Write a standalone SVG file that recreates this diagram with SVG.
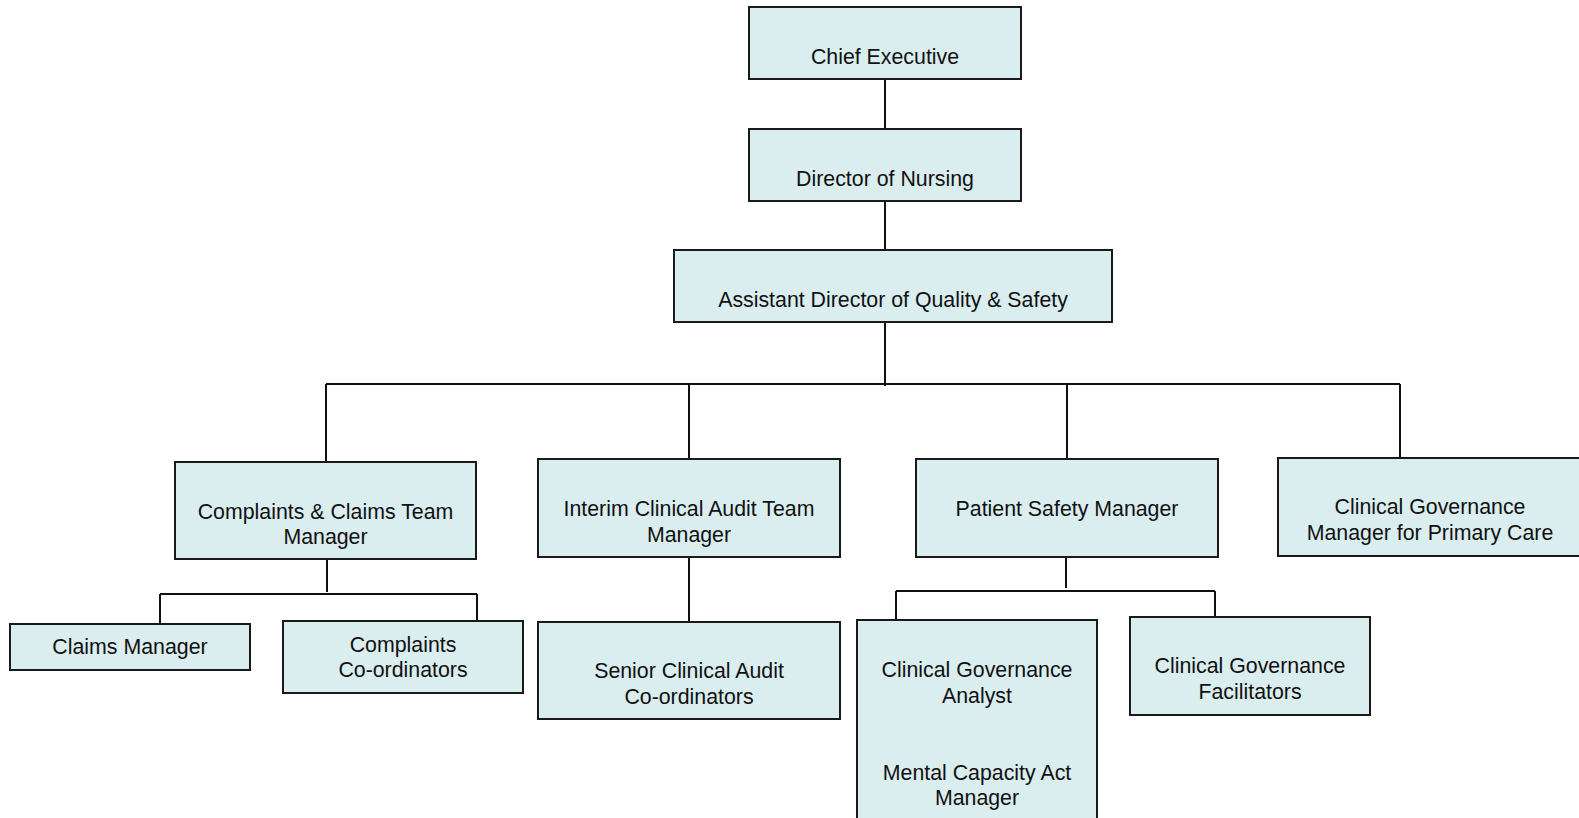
<svg xmlns="http://www.w3.org/2000/svg" width="1579" height="818" viewBox="0 0 1579 818">
<style>
.box{fill:#DAEDEF;stroke:#1a1a1a;stroke-width:2}
.t{font-family:"Liberation Sans",Arial,sans-serif;font-size:21.33px;fill:#111;text-anchor:middle}
.c{stroke:#111;stroke-width:2;fill:none}
</style>
<rect width="1579" height="818" fill="#fff"/>
<g id="connectors">
<path class="c" d="M885 79V128M885 201V250M885 322V386M326 384H1400M326 384V462M689 384V459M1067 384V459M1400 384V458"/>
<path class="c" d="M327 559V592M160 594H477M160 594V623M477 594V621"/>
<path class="c" d="M689 557V621"/>
<path class="c" d="M1066 557V588M896 591H1215M896 591V620M1215 591V617"/>
</g>
<g id="chief"><rect class="box" x="749" y="7" width="272" height="72"/><text class="t" x="885" y="64">Chief Executive</text></g>
<g id="director"><rect class="box" x="749" y="129" width="272" height="72"/><text class="t" x="885" y="186">Director of Nursing</text></g>
<g id="assistant"><rect class="box" x="674" y="250" width="438" height="72"/><text class="t" x="893" y="307">Assistant Director of Quality &amp; Safety</text></g>
<g id="complaints-team"><rect class="box" x="175" y="462" width="301" height="97"/><text class="t" x="325.5" y="519">Complaints &amp; Claims Team</text><text class="t" x="325.5" y="544">Manager</text></g>
<g id="interim"><rect class="box" x="538" y="459" width="302" height="98"/><text class="t" x="689" y="516">Interim Clinical Audit Team</text><text class="t" x="689" y="542">Manager</text></g>
<g id="patient-safety"><rect class="box" x="916" y="459" width="302" height="98"/><text class="t" x="1067" y="516">Patient Safety Manager</text></g>
<g id="cg-primary"><rect class="box" x="1278" y="458" width="304" height="98"/><text class="t" x="1430" y="514">Clinical Governance</text><text class="t" x="1430" y="540">Manager for Primary Care</text></g>
<g id="claims"><rect class="box" x="10" y="624" width="240" height="46"/><text class="t" x="130" y="654">Claims Manager</text></g>
<g id="complaints-coord"><rect class="box" x="283" y="621" width="240" height="72"/><text class="t" x="403" y="652">Complaints</text><text class="t" x="403" y="677">Co-ordinators</text></g>
<g id="senior-audit"><rect class="box" x="538" y="622" width="302" height="97"/><text class="t" x="689" y="678">Senior Clinical Audit</text><text class="t" x="689" y="704">Co-ordinators</text></g>
<g id="cg-analyst"><rect class="box" x="857" y="620" width="240" height="210"/><text class="t" x="977" y="677">Clinical Governance</text><text class="t" x="977" y="703">Analyst</text><text class="t" x="977" y="780">Mental Capacity Act</text><text class="t" x="977" y="805">Manager</text></g>
<g id="cg-facilitators"><rect class="box" x="1130" y="617" width="240" height="98"/><text class="t" x="1250" y="673">Clinical Governance</text><text class="t" x="1250" y="699">Facilitators</text></g>
</svg>
